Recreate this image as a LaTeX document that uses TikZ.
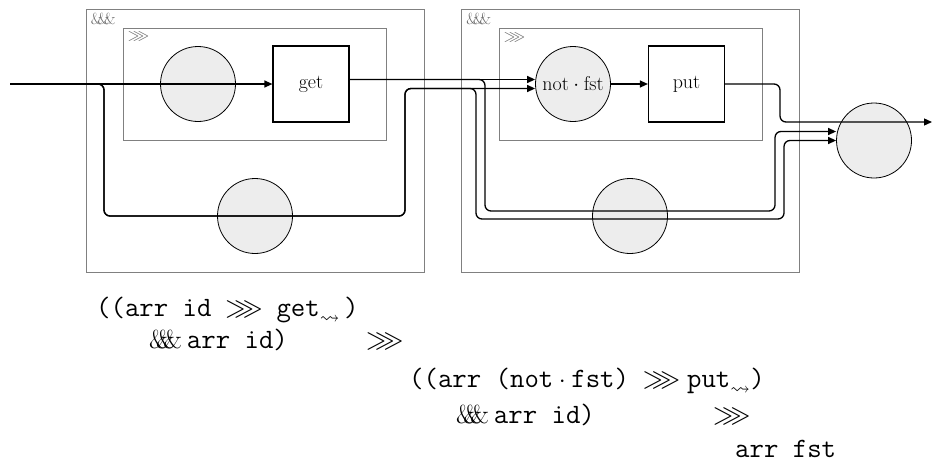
\documentclass[tikz,border=0pt]{standalone}
\usepackage{amssymb}
\usetikzlibrary{arrows.meta, positioning}

% fan-out operator, three overlapping ampersands (#1 = overlap)
\newcommand{\fanout}[1]{\&\kern#1\&\kern#1\&}

\begin{document}
\begin{tikzpicture}[
  x=1pt, y=-1pt,
  outer/.style={draw=black!50, line width=0.8pt, minimum width=338pt, minimum height=263pt, inner sep=0pt},
  inner/.style={draw=black!50, line width=0.8pt, minimum width=263pt, minimum height=112pt, inner sep=0pt},
  pure/.style={circle, draw, fill=black!7, minimum size=75pt, inner sep=0pt, line width=0.8pt, font=\fontsize{20}{22}\selectfont},
  effect/.style={draw, fill=white, minimum size=76pt, inner sep=0pt, line width=1.2pt, font=\fontsize{20}{22}\selectfont},
  wire/.style={line width=1.3pt, rounded corners=6pt},
  arrow/.style={wire, -{Triangle[length=8pt,width=7pt]}},
  tag/.style={text=black!60, font=\fontsize{16}{18}\selectfont, anchor=north west, inner sep=0pt, xshift=5pt, yshift=-4pt},
  code/.style={anchor=base west, inner sep=0pt, font=\fontsize{28}{32}\selectfont},
]

\useasboundingbox (0,0) rectangle (933,463);

% Boxes
\node[outer] (fanA) at (255,140.5) {};
\node[inner] (seqA) at (254.5,84) {};
\node[outer] (fanB) at (630.5,140.5) {};
\node[inner] (seqB) at (630.5,84.5) {};

\node[tag] (fanAtag) at (fanA.north west) {\fanout{-.3em}};
\node[tag] (seqAtag) at (seqA.north west) {$\ggg$};
\node[tag] (fanBtag) at (fanB.north west) {\fanout{-.3em}};
\node[tag] (seqBtag) at (seqB.north west) {$\ggg$};

% Nodes
\node[pure] (idA) at (198,84) {};
\node[effect] (get) at (311,84) {get};
\node[pure] (idB) at (255,216) {};
\node[pure] (nf) at (573,84) {not${}\cdot{}$fst};
\node[effect] (put) at (686.5,84) {put};
\node[pure] (idC) at (630,216) {};
\node[pure] (fst) at (874,140.5) {};

\coordinate (in) at (10,84);
\coordinate (out) at (932,122);

% Arrows
\draw[arrow] (in) -- (get);
\draw[arrow] (in) -| (104,216) -- (idB.center) -| (405,88.5) -- ([yshift=-4.5pt]nf.west);
\draw[arrow] (in) -| (104,216) -- (idB.center) -| (405,88.5) -| (476,219) -| (784,140.5) -- (fst.west);
\draw[arrow] ([yshift=4.5pt]get.east) -- ([yshift=4.5pt]nf.west);
\draw[arrow] ([yshift=4.5pt]get.east) -| (485,211) -| (775,131.5) -- ([yshift=9pt]fst.west);
\draw[arrow] (nf) -- (put);
\draw[arrow] (put.east) -| (780,122) -- (out);

% Arrow code
\node[code] (lineA) at (96,316) {$\texttt{((arr id}\;\ggg\;\texttt{get}_{\leadsto}\,\texttt{)}$};
\node[code] (lineB) at (149,348) {{\fontsize{26}{28}\selectfont\fanout{-.45em}}\hspace{5pt}\texttt{arr id)}};
\node[code] (seqOpA) at (366,348) {$\ggg$};
\node[code] (lineC) at (409,387) {$\texttt{((arr (not}\cdot\texttt{fst)}\;\ggg\texttt{put}_{\leadsto}\texttt{)}$};
\node[code] (lineD) at (456,423) {{\fontsize{26}{28}\selectfont\fanout{-.45em}}\hspace{5pt}\texttt{arr id)}};
\node[code] (seqOpB) at (713,423) {$\ggg$};
\node[code] (lineE) at (735,457) {\texttt{arr fst}};

\end{tikzpicture}
\end{document}
